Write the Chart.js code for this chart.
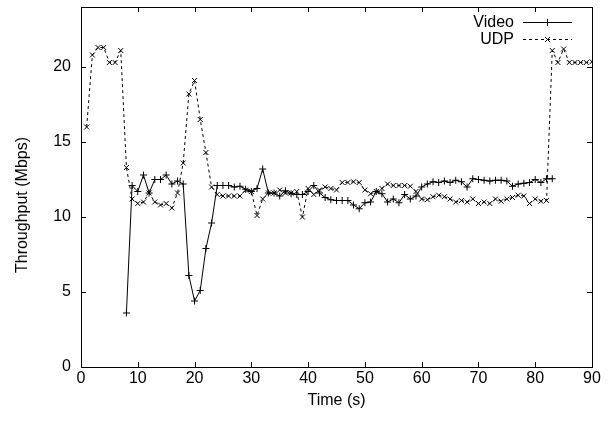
<!DOCTYPE html>
<html>
<head>
<meta charset="utf-8">
<script src="https://cdn.jsdelivr.net/npm/chart.js@4/dist/chart.umd.min.js"></script>
<style>
  html, body { margin: 0; padding: 0; background: #fff; }
  canvas { display: block; }
</style>
</head>
<body>
<canvas id="chart" width="613" height="422"></canvas>
<script>
'use strict';

// Throughput of the video stream and the competing UDP flow, one sample per second.
var videoTime = [8, 9, 10, 11, 12, 13, 14, 15, 16, 17, 18, 19, 20, 21, 22, 23, 24, 25, 26, 27,
  28, 29, 30, 31, 32, 33, 34, 35, 36, 37, 38, 39, 40, 41, 42, 43, 44, 45, 46, 47,
  48, 49, 50, 51, 52, 53, 54, 55, 56, 57, 58, 59, 60, 61, 62, 63, 64, 65, 66, 67,
  68, 69, 70, 71, 72, 73, 74, 75, 76, 77, 78, 79, 80, 81, 82, 83];
var videoRate = [3.6, 12.1, 11.7, 12.8, 11.6, 12.5, 12.5, 12.8, 12.2, 12.4, 12.2, 6.1, 4.4, 5.1, 7.9, 9.6, 12.1, 12.1, 12.1, 12.0,
  12.05, 11.85, 11.7, 11.9, 13.2, 11.6, 11.6, 11.4, 11.75, 11.55, 11.5, 11.5, 11.7, 12.1, 11.6, 11.3, 11.15, 11.1, 11.1, 11.1,
  10.8, 10.55, 10.95, 11.0, 11.7, 11.55, 11.0, 11.2, 10.95, 11.5, 11.2, 11.4, 12.0, 12.2, 12.35, 12.3, 12.4, 12.3, 12.45, 12.35,
  12.0, 12.55, 12.5, 12.45, 12.4, 12.45, 12.45, 12.4, 12.05, 12.2, 12.25, 12.3, 12.5, 12.3, 12.55, 12.55];

var udpTime = [1, 2, 3, 4, 5, 6, 7, 8, 9, 10, 11, 12, 13, 14, 15, 16, 17, 18, 19, 20,
  21, 22, 23, 24, 25, 26, 27, 28, 29, 30, 31, 32, 33, 34, 35, 36, 37, 38, 39, 40,
  41, 42, 43, 44, 45, 46, 47, 48, 49, 50, 51, 52, 53, 54, 55, 56, 57, 58, 59, 60,
  61, 62, 63, 64, 65, 66, 67, 68, 69, 70, 71, 72, 73, 74, 75, 76, 77, 78, 79, 80,
  81, 82, 83, 84, 85, 86, 87, 88, 89, 90];
var udpRate = [16.0, 20.8, 21.3, 21.3, 20.3, 20.3, 21.1, 13.3, 11.2, 10.9, 11.0, 11.6, 11.0, 10.8, 10.9, 10.6, 11.6, 13.6, 18.2, 19.1,
  16.5, 14.3, 12.0, 11.5, 11.4, 11.4, 11.4, 11.4, 11.8, 11.7, 10.1, 11.2, 11.6, 11.6, 11.8, 11.6, 11.6, 11.7, 10.0, 11.9,
  11.5, 11.8, 12.0, 11.9, 11.8, 12.3, 12.3, 12.35, 12.3, 11.8, 11.55, 11.7, 11.9, 12.2, 12.1, 12.1, 12.1, 12.05, 11.7, 11.2,
  11.15, 11.35, 11.45, 11.35, 11.2, 11.0, 11.1, 11.0, 11.2, 10.9, 11.0, 10.9, 11.2, 11.05, 11.2, 11.3, 11.45, 11.4, 10.9, 11.2,
  11.05, 11.1, 21.1, 20.3, 21.2, 20.3, 20.3, 20.3, 20.3, 20.35];

var seriesNames = ['Video', 'UDP'];
var xTitle = 'Time (s)';
var yTitle = 'Throughput (Mbps)';

var FONT = { family: '"Liberation Sans", Arial, sans-serif', size: 16 };

function pairs(xs, ys) {
  return xs.map(function (x, i) { return { x: x, y: ys[i] }; });
}

// gnuplot-style frame: full border box with inward ticks mirrored on all sides.
var framePlugin = {
  id: 'frame',
  afterDraw: function (chart) {
    var ctx = chart.ctx;
    var a = chart.chartArea;
    var len = 5;
    ctx.save();
    ctx.strokeStyle = '#000';
    ctx.lineWidth = 1;
    ctx.strokeRect(Math.round(a.left) + 0.5, Math.round(a.top) + 0.5,
      Math.round(a.right - a.left), Math.round(a.bottom - a.top));
    ctx.beginPath();
    chart.scales.x.ticks.forEach(function (t) {
      var px = Math.round(chart.scales.x.getPixelForValue(t.value)) + 0.5;
      ctx.moveTo(px, a.bottom); ctx.lineTo(px, a.bottom - len);
      ctx.moveTo(px, a.top); ctx.lineTo(px, a.top + len);
    });
    chart.scales.y.ticks.forEach(function (t) {
      var py = Math.round(chart.scales.y.getPixelForValue(t.value)) + 0.5;
      ctx.moveTo(a.left, py); ctx.lineTo(a.left + len, py);
      ctx.moveTo(a.right, py); ctx.lineTo(a.right - len, py);
    });
    ctx.stroke();

    // y label sits a little below the plot centre, as gnuplot places it
    ctx.fillStyle = '#000';
    ctx.font = FONT.size + 'px ' + FONT.family;
    ctx.textAlign = 'center';
    ctx.textBaseline = 'middle';
    ctx.translate(23, (a.top + a.bottom) / 2 + 18);
    ctx.rotate(-Math.PI / 2);
    ctx.fillText(yTitle, 0, 0);
    ctx.restore();
  }
};

// gnuplot-style key: right-aligned label followed by a line sample with its marker.
var keyPlugin = {
  id: 'key',
  afterDraw: function (chart) {
    var ctx = chart.ctx;
    var a = chart.chartArea;
    ctx.save();
    ctx.font = FONT.size + 'px ' + FONT.family;
    ctx.textAlign = 'right';
    ctx.textBaseline = 'middle';
    chart.data.datasets.forEach(function (ds, i) {
      var y = Math.round(a.top + 15 + i * 17) + 0.5;
      var x0 = a.right - 69, x1 = a.right - 20;
      ctx.fillStyle = '#000';
      ctx.fillText(ds.label, a.right - 78, y);
      ctx.strokeStyle = '#000';
      ctx.lineWidth = 1;
      ctx.setLineDash(ds.borderDash || []);
      ctx.beginPath();
      ctx.moveTo(x0, y);
      ctx.lineTo(x1, y);
      ctx.stroke();
      ctx.setLineDash([]);
      Chart.helpers.drawPoint(ctx, {
        pointStyle: ds.pointStyle, radius: ds.pointRadius, rotation: 0, borderWidth: 1
      }, (x0 + x1) / 2, y);
    });
    ctx.restore();
  }
};

new Chart(document.getElementById('chart'), {
  type: 'line',
  data: {
    datasets: [
      {
        label: seriesNames[0],
        data: pairs(videoTime, videoRate),
        borderColor: '#000',
        borderWidth: 1,
        pointStyle: 'cross',
        pointRadius: 3.5,
        pointBorderColor: '#000',
        pointBorderWidth: 1,
        fill: false,
        tension: 0
      },
      {
        label: seriesNames[1],
        data: pairs(udpTime, udpRate),
        borderColor: '#000',
        borderWidth: 1,
        borderDash: [3, 3],
        pointStyle: 'crossRot',
        pointRadius: 3.5,
        pointBorderColor: '#000',
        pointBorderWidth: 1,
        fill: false,
        tension: 0
      }
    ]
  },
  options: {
    responsive: false,
    animation: false,
    events: [],
    layout: { padding: { left: 0, right: 21, top: 7, bottom: 0 } },
    plugins: {
      legend: { display: false },
      tooltip: { enabled: false }
    },
    scales: {
      x: {
        type: 'linear',
        min: 0,
        max: 90,
        grid: { display: false, drawTicks: false },
        border: { display: false },
        ticks: { stepSize: 10, color: '#000', font: FONT, padding: 2, maxRotation: 0 },
        title: { display: true, text: xTitle, color: '#000', font: FONT, padding: { top: 4, bottom: 12 } },
        afterFit: function (s) { s.height = 55; }
      },
      y: {
        min: 0,
        max: 24,
        grid: { display: false, drawTicks: false },
        border: { display: false },
        ticks: { stepSize: 5, includeBounds: false, color: '#000', font: FONT, padding: 10 },
        title: { display: false, text: yTitle },
        afterFit: function (s) {
          s.width = 81;
          s.paddingTop = 0;
          s.paddingBottom = 0;
        }
      }
    }
  },
  plugins: [framePlugin, keyPlugin]
});
</script>
</body>
</html>
